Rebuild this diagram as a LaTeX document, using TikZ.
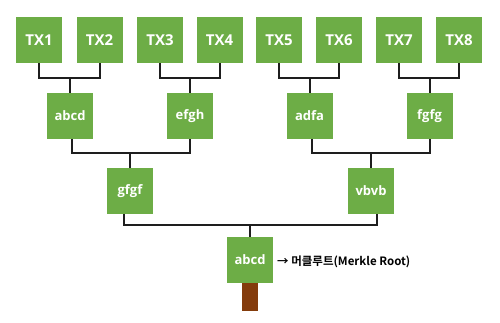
\documentclass[tikz,border=0pt]{standalone}
\usepackage{fontspec}
\setmainfont{Open Sans}
\newfontfamily\cjk{Noto Sans CJK KR}[UprightFont=* Bold]
\definecolor{leaf}{HTML}{6DAD46}
\definecolor{trunk}{HTML}{843C0C}
\definecolor{wire}{HTML}{1E1E1E}
\begin{document}
\begin{tikzpicture}[x=1pt,y=-1pt,
  hbox/.style={fill=leaf,draw=none,minimum width=46pt,minimum height=46pt,inner sep=0pt,text=white,font=\fontsize{15}{15}\selectfont\bfseries},
  lbox/.style={hbox,font=\fontsize{13}{13}\selectfont\bfseries},
  wirel/.style={draw=wire,line width=2pt}]
\useasboundingbox (0,0) rectangle (500,323);
% leaves
\node[hbox] (tx1) at (39,40) {TX1};
\node[hbox] (tx2) at (99.5,40) {TX2};
\node[hbox] (tx3) at (160,40) {TX3};
\node[hbox] (tx4) at (219.5,40) {TX4};
\node[hbox] (tx5) at (279,40) {TX5};
\node[hbox] (tx6) at (339,40) {TX6};
\node[hbox] (tx7) at (399,40) {TX7};
\node[hbox] (tx8) at (459,40) {TX8};
% level 2
\node[lbox] (h12) at (70,116) {abcd};
\node[lbox] (h34) at (190,116) {efgh};
\node[lbox] (h56) at (309.5,116) {adfa};
\node[lbox] (h78) at (429.5,116) {fgfg};
% level 3
\node[lbox] (h14) at (130,191) {gfgf};
\node[lbox] (h58) at (371,191) {vbvb};
% root
\node[lbox] (root) at (250,260) {abcd};
\node[fill=trunk,minimum width=16pt,minimum height=28pt,inner sep=0pt,anchor=north] (stem) at (root.south) {};
\node[anchor=west,inner sep=0pt,font=\cjk\fontsize{11.5}{11.5}\selectfont] (lbl) at (277,262) {→ 머클루트(Merkle Root)};
% connectors level 1
\coordinate (b12) at (70,78);
\coordinate (b34) at (190,78);
\coordinate (b56) at (309.5,78);
\coordinate (b78) at (429.5,78);
\draw[wirel] (tx1.south) |- (b12) -| (tx2.south);
\draw[wirel] (b12) -- (h12.north);
\draw[wirel] (tx3.south) |- (b34) -| (tx4.south);
\draw[wirel] (b34) -- (h34.north);
\draw[wirel] (tx5.south) |- (b56) -| (tx6.south);
\draw[wirel] (b56) -- (h56.north);
\draw[wirel] (tx7.south) |- (b78) -| (tx8.south);
\draw[wirel] (b78) -- (h78.north);
% level 2
\coordinate (b14) at (130,153);
\coordinate (b58) at (371,153);
\draw[wirel] ([xshift=2pt]h12.south) |- (b14) -| (h34.south);
\draw[wirel] (b14) -- (h14.north);
\draw[wirel] ([xshift=2pt]h56.south) |- (b58) -| (h78.south);
\draw[wirel] (b58) -- (h58.north);
% level 3
\coordinate (b18) at (250,225);
\draw[wirel] ([xshift=-6pt]h14.south) |- (b18) -| ([xshift=6pt]h58.south);
\draw[wirel] (b18) -- (root.north);
\end{tikzpicture}
\end{document}
